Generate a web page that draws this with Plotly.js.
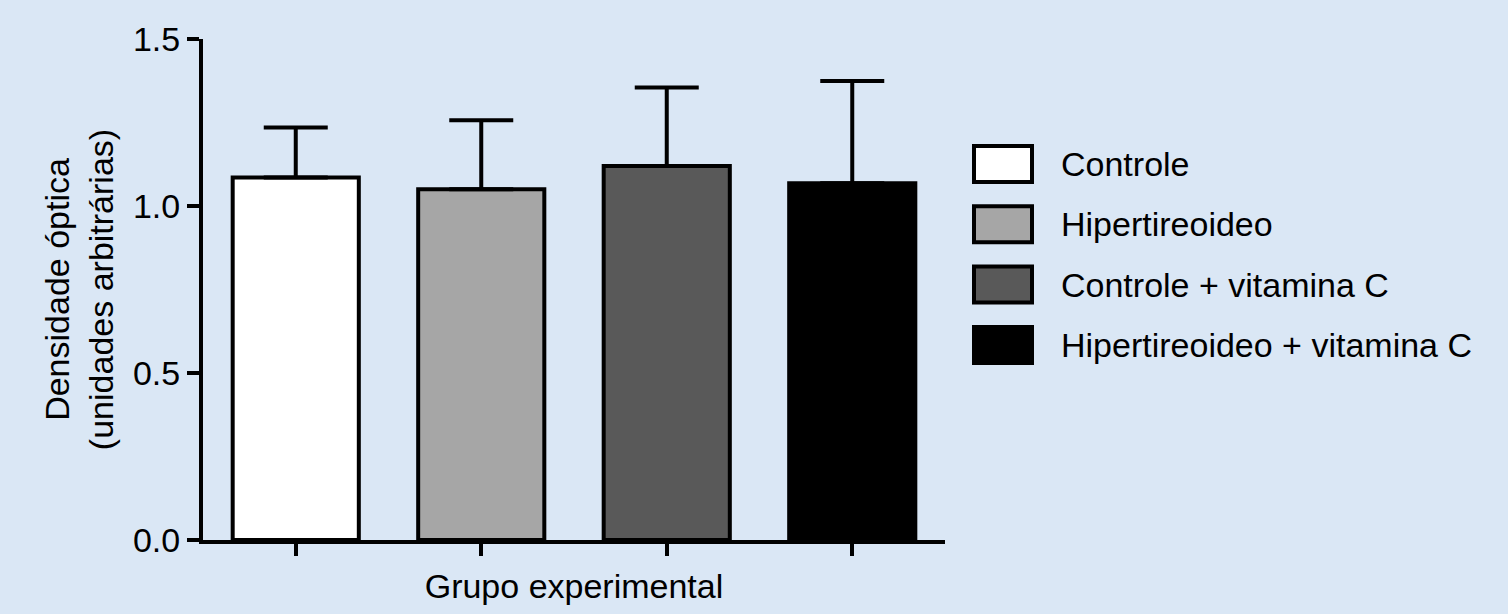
<!DOCTYPE html>
<html>
<head>
<meta charset="utf-8">
<script src="https://cdn.plot.ly/plotly-3.0.1.min.js"></script>
<style>
  html, body { margin: 0; padding: 0; background: #dae7f5; }
  #chart { width: 1508px; height: 614px; }
</style>
</head>
<body>
<div id="chart"></div>
<script>
// ---- data ----
var categories = ["Controle", "Hipertireoideo", "Controle + vitamina C", "Hipertireoideo + vitamina C"];
var meanValues = [1.085, 1.050, 1.120, 1.068];
var sdValues   = [0.150, 0.207, 0.235, 0.306];
var yTickValues = [0.0, 0.5, 1.0, 1.5];
var yTickLabels = ["0.0", "0.5", "1.0", "1.5"];
var barColors = ["#ffffff", "#a6a6a6", "#595959", "#000000"];
var yTitle = "Densidade óptica<br>(unidades arbitrárias)";
var xTitle = "Grupo experimental";

// ---- layout geometry (pixels) ----
var W = 1508, H = 614;
var plotL = 203, plotR = 945, plotT = 39, plotB = 540;
var pw = plotR - plotL, ph = plotB - plotT;
function px2x(p) { return (p - plotL) / pw; }
function py2y(p) { return (plotB - p) / ph; }

var FONT = "Liberation Sans, Arial, Helvetica, sans-serif";
var FS = 34;

var trace = {
  type: "bar",
  x: categories,
  y: meanValues,
  width: 0.68,
  marker: { color: barColors, line: { color: "#000000", width: 4 } },
  error_y: {
    type: "data",
    symmetric: false,
    array: sdValues,
    arrayminus: sdValues.map(function () { return 0; }),
    color: "#000000",
    thickness: 4,
    width: 32
  },
  showlegend: false,
  hoverinfo: "skip"
};

// legend built from shapes + annotations
var shapes = [], annotations = [];
var legendRowY0 = 164, legendRowStep = 60.3;
var boxL = 974, boxR = 1032, boxH = 36, textX = 1059;
categories.forEach(function (name, i) {
  var cy = legendRowY0 + i * legendRowStep;
  shapes.push({
    type: "rect", xref: "paper", yref: "paper",
    x0: px2x(boxL), x1: px2x(boxR),
    y0: py2y(cy + boxH / 2), y1: py2y(cy - boxH / 2),
    fillcolor: barColors[i],
    line: { color: "#000000", width: 4 }
  });
  annotations.push({
    xref: "paper", yref: "paper",
    x: px2x(textX), y: py2y(cy),
    xanchor: "left", yanchor: "middle",
    text: name, showarrow: false,
    font: { family: FONT, size: FS, color: "#000000" }
  });
});

var layout = {
  width: W, height: H,
  margin: { l: plotL, r: W - plotR, t: plotT, b: H - plotB, pad: 0 },
  paper_bgcolor: "#dae7f5",
  plot_bgcolor: "rgba(0,0,0,0)",
  font: { family: FONT, size: FS, color: "#000000" },
  xaxis: {
    type: "category",
    range: [-0.5, 3.5],
    showgrid: false, zeroline: false,
    showline: true, linecolor: "#000000", linewidth: 4,
    ticks: "outside", ticklen: 12, tickwidth: 4, tickcolor: "#000000",
    showticklabels: false,
    title: { text: xTitle, font: { family: FONT, size: FS }, standoff: 20 },
    automargin: false,
    fixedrange: true
  },
  yaxis: {
    range: [0, 1.5],
    tickvals: yTickValues,
    ticktext: yTickLabels,
    showgrid: false, zeroline: false,
    showline: true, linecolor: "#000000", linewidth: 4,
    ticks: "outside", ticklen: 12, tickwidth: 4, tickcolor: "#000000",
    tickfont: { family: FONT, size: FS },
    title: { text: yTitle, font: { family: FONT, size: FS }, standoff: 10 },
    automargin: false,
    fixedrange: true
  },
  shapes: shapes,
  annotations: annotations,
  showlegend: false
};

Plotly.newPlot("chart", [trace], layout, { staticPlot: true, displayModeBar: false });
</script>
</body>
</html>
